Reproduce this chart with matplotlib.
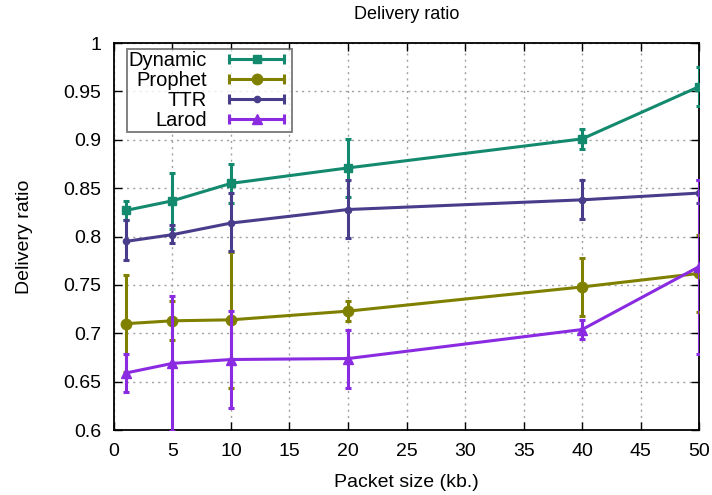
import matplotlib
matplotlib.use('Agg')
import matplotlib.pyplot as plt
from matplotlib.lines import Line2D
from matplotlib.legend_handler import HandlerLine2D, HandlerTuple

plt.rcParams['font.family'] = ['Liberation Sans', 'DejaVu Sans']

packet_size = [1, 5, 10, 20, 40, 50]

dynamic = [0.827, 0.837, 0.855, 0.871, 0.901, 0.955]
dynamic_lo = [0.817, 0.808, 0.835, 0.841, 0.891, 0.935]
dynamic_hi = [0.837, 0.866, 0.875, 0.901, 0.911, 0.975]

prophet = [0.710, 0.713, 0.714, 0.723, 0.748, 0.762]
prophet_lo = [0.660, 0.693, 0.644, 0.713, 0.718, 0.722]
prophet_hi = [0.760, 0.733, 0.784, 0.733, 0.778, 0.802]

ttr = [0.795, 0.802, 0.814, 0.828, 0.838, 0.845]
ttr_lo = [0.776, 0.793, 0.785, 0.799, 0.818, 0.835]
ttr_hi = [0.817, 0.812, 0.845, 0.858, 0.858, 0.859]

larod = [0.659, 0.669, 0.673, 0.674, 0.704, 0.769]
larod_lo = [0.639, 0.599, 0.623, 0.644, 0.694, 0.679]
larod_hi = [0.679, 0.739, 0.723, 0.704, 0.714, 0.859]

names = ['Dynamic', 'Prophet', 'TTR', 'Larod']
colors = ['#138a6e', '#808000', '#483d8b', '#8a2be2']
markers = ['s', 'o', 'o', '^']
msizes = [6, 7.5, 4.5, 7.5]

series = [(dynamic, dynamic_lo, dynamic_hi),
          (prophet, prophet_lo, prophet_hi),
          (ttr, ttr_lo, ttr_hi),
          (larod, larod_lo, larod_hi)]

fig = plt.figure(figsize=(7.12, 4.95), dpi=100)
ax = fig.add_axes([0.160, 0.131, 0.822, 0.782])

handles = []
hmap = {}
for i, (vals, lo, hi) in enumerate(series):
    err = [[v - l for v, l in zip(vals, lo)], [h - v for v, h in zip(vals, hi)]]
    ax.errorbar(packet_size, vals, yerr=err, color=colors[i], lw=2.2,
                marker=markers[i], ms=msizes[i], elinewidth=2.2,
                capsize=2.5, capthick=2.2, zorder=3 + i, clip_on=True)
    # legend sample: horizontal line with caps at both ends and marker in the middle
    caps = Line2D([0], [0], color=colors[i], lw=2.2, marker='|', ms=7,
                  mew=2.2)
    mark = Line2D([0], [0], color=colors[i], lw=2.2, marker=markers[i],
                  ms=msizes[i], linestyle='None')
    hmap[caps] = HandlerLine2D(numpoints=2)
    hmap[mark] = HandlerLine2D(numpoints=1)
    handles.append((caps, mark))
hmap[tuple] = HandlerTuple(ndivide=1)

ax.set_xlim(0, 50)
ax.set_ylim(0.6, 1.0)
ax.set_xticks(range(0, 51, 5))
ax.set_yticks([0.6, 0.65, 0.7, 0.75, 0.8, 0.85, 0.9, 0.95, 1.0])
ax.set_yticklabels(['0.6', '0.65', '0.7', '0.75', '0.8', '0.85', '0.9',
                    '0.95', '1'])
ax.tick_params(direction='in', top=True, right=True, labelsize=14,
               length=6, width=1)
ax.tick_params(axis='y', pad=9)
ax.tick_params(axis='x', pad=9)
ax.grid(True, linestyle=(0, (1.5, 3)), color='#a0a0a0', lw=1)
for s in ax.spines.values():
    s.set_linewidth(1.3)

ax.set_xlabel('Packet size (kb.)', fontsize=14, labelpad=10)
ax.set_ylabel('Delivery ratio', fontsize=14, labelpad=22)
ax.set_title('Delivery ratio', fontsize=13, pad=17)

leg = ax.legend(handles, names, handler_map=hmap, loc='upper left',
                bbox_to_anchor=(0.022, 0.985), markerfirst=False,
                fontsize=14.5, frameon=True, fancybox=False, handlelength=3.3,
                borderpad=0.1, labelspacing=0.05, handletextpad=0.8,
                borderaxespad=0)
leg.get_frame().set_edgecolor('#555555')
leg.get_frame().set_linewidth(1.3)
for t in leg.get_texts():
    t.set_ha('right')
    t.set_position((0, 0))

fig.savefig('out.png', dpi=100)
